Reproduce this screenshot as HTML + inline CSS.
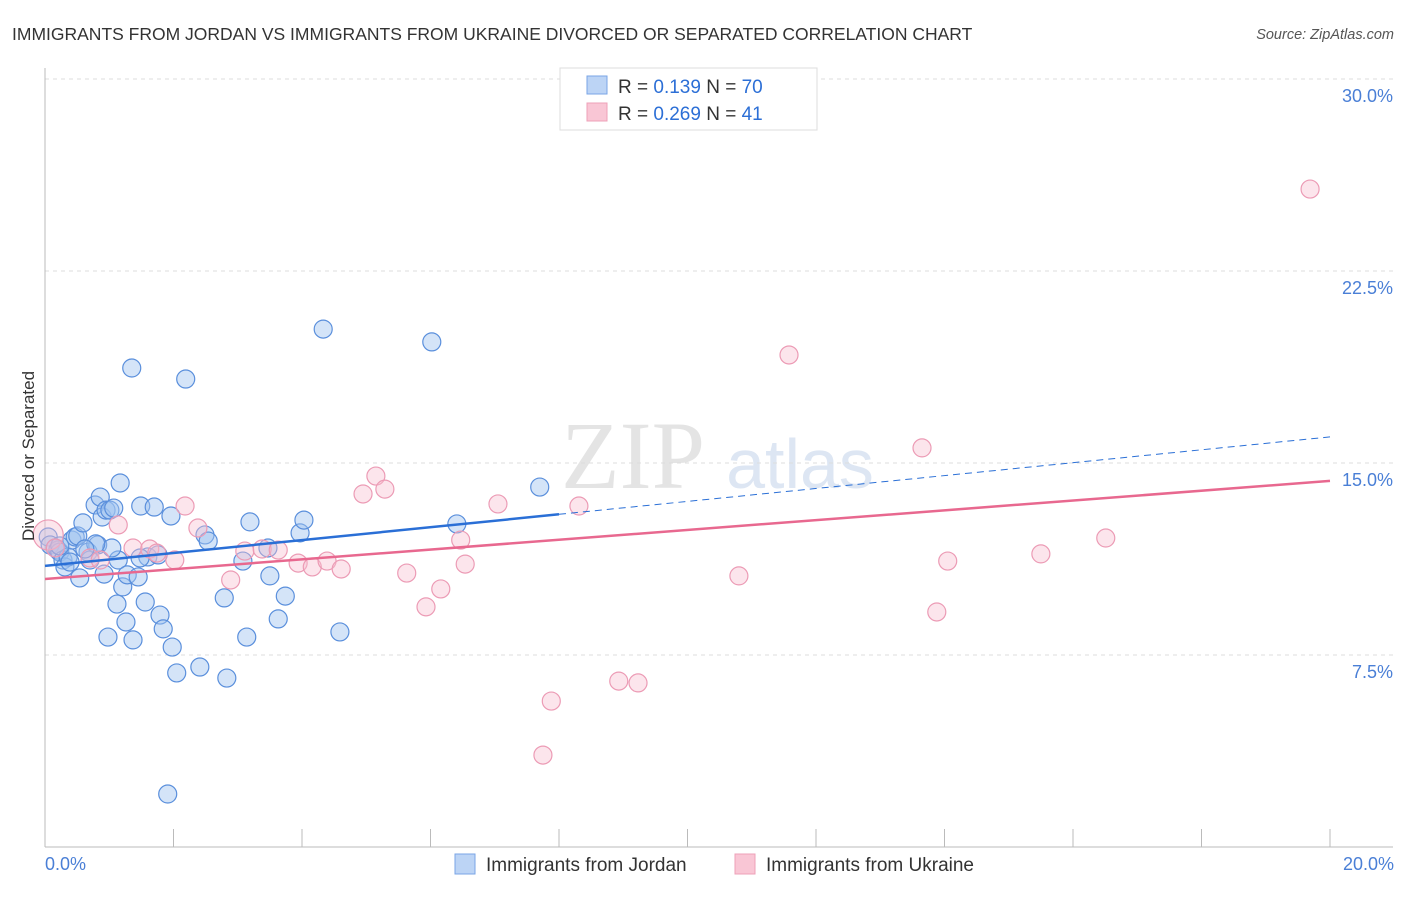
<!DOCTYPE html>
<html><head><meta charset="utf-8"><style>
body{margin:0;background:#fff;font-family:"Liberation Sans",sans-serif}
svg text{font-family:"Liberation Sans",sans-serif}
</style></head><body>
<svg id="c" width="1406" height="892">
<text x="12" y="40" font-size="17.5" fill="#333">IMMIGRANTS FROM JORDAN VS IMMIGRANTS FROM UKRAINE DIVORCED OR SEPARATED CORRELATION CHART</text>
<text x="1394" y="39" font-size="14.5" fill="#555" text-anchor="end" font-style="italic">Source: ZipAtlas.com</text>
<text x="633" y="488" font-size="96" fill="#e4e4e4" font-family="Liberation Serif" text-anchor="middle" style="font-family:'Liberation Serif',serif">ZIP</text>
<text x="800" y="488" font-size="70" fill="#dde6f3" text-anchor="middle">atlas</text>
<g id="grid"></g><g id="axes"></g><g id="pts"></g><g id="trend"></g>
<text transform="translate(34,456) rotate(-90)" font-size="17" fill="#333" text-anchor="middle">Divorced or Separated</text>
<text x="45" y="870" font-size="18" fill="#4a7fd6">0.0%</text>
<text x="1394" y="870" font-size="18" fill="#4a7fd6" text-anchor="end">20.0%</text>
<g>
<rect x="560" y="68" width="257" height="62" fill="#fff" stroke="#ddd"/>
<rect x="587" y="76" width="20" height="18" fill="#bcd4f5" stroke="#7aa5e6"/>
<rect x="587" y="103" width="20" height="18" fill="#f9c6d5" stroke="#eea0b8"/>
<text x="618" y="93" font-size="19" fill="#333">R = <tspan fill="#2c6fd6">0.139</tspan>   N = <tspan fill="#2c6fd6">70</tspan></text>
<text x="618" y="120" font-size="19" fill="#333">R = <tspan fill="#2c6fd6">0.269</tspan>   N =  <tspan fill="#2c6fd6">41</tspan></text>
</g>
<g>
<rect x="455" y="854" width="20" height="20" fill="#bcd4f5" stroke="#7aa5e6"/>
<text x="486" y="871" font-size="19" fill="#333">Immigrants from Jordan</text>
<rect x="735" y="854" width="20" height="20" fill="#f9c6d5" stroke="#eea0b8"/>
<text x="766" y="871" font-size="19" fill="#333">Immigrants from Ukraine</text>
</g>
</svg>
<script>
const yTicks=[7.5,15,22.5,30];
const yTickLabels=["7.5%","15.0%","22.5%","30.0%"];
const xTicks=[0,2,4,6,8,10,12,14,16,18,20];
const jordanX=[0.05,0.08,0.16,0.20,0.23,0.28,0.31,0.36,0.42,0.47,0.51,0.54,0.59,0.67,0.70,0.78,0.82,0.86,0.89,0.92,0.95,1.01,1.07,1.14,1.17,1.12,1.21,1.26,1.28,1.35,1.37,1.45,1.49,1.56,1.60,1.70,1.76,1.79,1.84,1.91,1.96,1.98,2.05,2.19,2.41,2.49,2.54,2.79,2.83,3.08,3.14,3.19,3.47,3.50,3.63,3.74,3.97,4.03,4.33,4.59,6.02,6.41,7.70,0.98,1.04,0.79,0.39,0.62,0.23,1.48];
const jordanY=[12.11,11.80,11.68,11.60,11.52,11.21,10.94,11.33,11.99,12.11,12.15,10.51,12.66,11.52,11.21,13.36,11.80,13.67,12.89,10.66,13.16,13.16,13.24,11.21,14.22,9.49,10.16,8.79,10.63,18.71,8.09,10.55,13.32,9.57,11.33,13.28,11.41,9.06,8.52,2.07,12.93,7.81,6.80,18.28,7.03,12.19,11.95,9.73,6.60,11.17,8.20,12.70,11.68,10.59,8.91,9.80,12.27,12.77,20.23,8.40,19.73,12.62,14.06,8.20,11.68,11.84,11.13,11.64,11.76,11.29];
const ukraineX=[0.05,0.16,0.70,0.86,1.14,1.37,1.63,1.74,2.02,2.18,2.38,2.89,3.11,3.38,3.63,3.94,4.16,4.39,4.61,4.95,5.15,5.29,5.63,5.93,6.16,6.47,6.54,7.05,7.88,7.75,8.31,8.93,9.23,10.80,11.58,13.65,13.88,14.05,15.50,16.51,19.69];
const ukraineY=[12.19,11.68,11.29,11.21,12.58,11.68,11.64,11.48,11.21,13.32,12.46,10.43,11.56,11.64,11.60,11.09,10.94,11.17,10.86,13.79,14.49,13.98,10.70,9.38,10.08,11.99,11.05,13.40,5.70,3.59,13.32,6.48,6.41,10.59,19.22,15.59,9.18,11.17,11.45,12.07,25.70];
const jordanTrend=[10.98,16.02];
const ukraineTrend=[10.47,14.30];
const X=v=>45+v/20*1285, Y=v=>847-v/7.5*192;
const NS="http://www.w3.org/2000/svg";
function mk(t,a,p){const e=document.createElementNS(NS,t);for(const k in a)e.setAttribute(k,a[k]);p.appendChild(e);return e;}
const grid=document.getElementById('grid'),axes=document.getElementById('axes'),pts=document.getElementById('pts'),tr=document.getElementById('trend');
yTicks.forEach((t,i)=>{
 const l=mk('line',{x1:45,x2:1393,y1:Y(t),y2:Y(t),stroke:'#ddd','stroke-dasharray':'4,4'},grid);
 
 
 const tx=mk('text',{x:1393,y:Y(t)+23,'font-size':18,fill:'#4a7fd6','text-anchor':'end'},axes);
 tx.textContent=yTickLabels[i];
 
 
});
const ya=mk('line',{x1:45,x2:45,y1:68,y2:847,stroke:'#bbb'},axes);


const xa=mk('line',{x1:45,x2:1393,y1:847,y2:847,stroke:'#bbb'},axes);


xTicks.forEach(t=>{
 const l=mk('line',{x1:X(t),x2:X(t),y1:847,y2:829,stroke:'#bbb'},axes);
 
 
});
jordanX.forEach((x,i)=>{
 const c=mk('circle',{cx:X(x),cy:Y(jordanY[i]),r:9,fill:'rgba(160,195,240,0.45)',stroke:'#5a8fdc','stroke-width':1.2},pts);
 
 
});
ukraineX.forEach((x,i)=>{
 const c=mk('circle',{cx:X(x),cy:Y(ukraineY[i]),r:i===0?15:9,fill:'rgba(248,190,208,0.4)',stroke:'#ec9bb5','stroke-width':1.2},pts);
 
 
});
const jAt=x=>jordanTrend[0]+(jordanTrend[1]-jordanTrend[0])*x/20;
const t1=mk('line',{x1:X(0),y1:Y(jAt(0)),x2:X(8),y2:Y(jAt(8)),stroke:'#2a6fd6','stroke-width':2.5},tr);


const t2=mk('line',{x1:X(8),y1:Y(jAt(8)),x2:X(20),y2:Y(jAt(20)),stroke:'#2a6fd6','stroke-width':1,'stroke-dasharray':'7,5'},tr);


const t3=mk('line',{x1:X(0),y1:Y(ukraineTrend[0]),x2:X(20),y2:Y(ukraineTrend[1]),stroke:'#e8688f','stroke-width':2.5},tr);


</script>
</body></html>
